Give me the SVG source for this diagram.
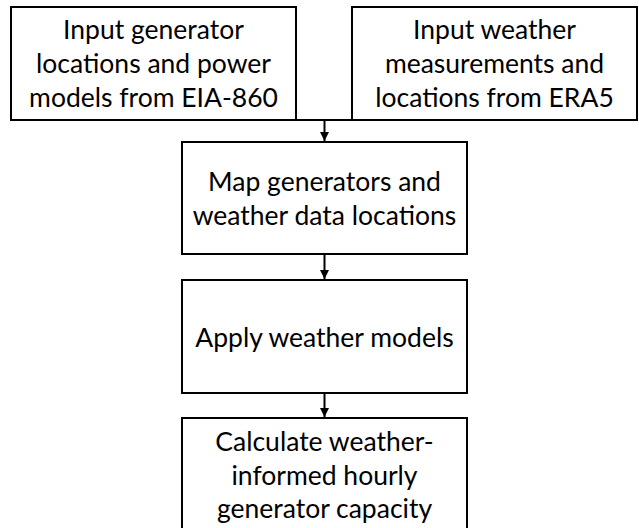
<svg xmlns="http://www.w3.org/2000/svg" width="639" height="528" viewBox="0 0 639 528">
<defs>
<style>
.box{fill:#ffffff;stroke:#000000;stroke-width:2}
.lbl{font-family:Lato,"Open Sans","Liberation Sans",sans-serif;font-size:26.5px;fill:#000000;text-anchor:middle}
.con{stroke:#000000;stroke-width:2;fill:none}
</style>
<marker id="arr" viewBox="0 0 10 10" refX="10" refY="5" markerWidth="4.5" markerHeight="4.5" orient="auto" markerUnits="strokeWidth">
<path d="M0,0 L10,5 L0,10 Z" fill="#000000"/>
</marker>
</defs>
<rect width="639" height="528" fill="#ffffff"/>
<g id="connectors">
<path class="con" d="M296,120 H352"/>
<path class="con" d="M324.5,120 V141" marker-end="url(#arr)"/>
<path class="con" d="M324.5,254 V279" marker-end="url(#arr)"/>
<path class="con" d="M324.5,393 V417" marker-end="url(#arr)"/>
</g>
<g id="node-eia">
<rect class="box" x="11" y="7" width="285" height="113"/>
<text class="lbl" x="153.5" y="39">Input generator</text>
<text class="lbl" x="153.5" y="73">locations and power</text>
<text class="lbl" x="153.5" y="107">models from EIA-860</text>
</g>
<g id="node-era5">
<rect class="box" x="352" y="7" width="285" height="113"/>
<text class="lbl" x="494.5" y="39">Input weather</text>
<text class="lbl" x="494.5" y="73">measurements and</text>
<text class="lbl" x="494.5" y="107">locations from ERA5</text>
</g>
<g id="node-map">
<rect class="box" x="182" y="142" width="285" height="112"/>
<text class="lbl" x="324.5" y="191">Map generators and</text>
<text class="lbl" x="324.5" y="225">weather data locations</text>
</g>
<g id="node-apply">
<rect class="box" x="182" y="280" width="285" height="113"/>
<text class="lbl" x="324.5" y="346.5">Apply weather models</text>
</g>
<g id="node-calc">
<rect class="box" x="182" y="418" width="285" height="115"/>
<text class="lbl" x="324.5" y="451">Calculate weather-</text>
<text class="lbl" x="324.5" y="485">informed hourly</text>
<text class="lbl" x="324.5" y="518">generator capacity</text>
</g>
</svg>
